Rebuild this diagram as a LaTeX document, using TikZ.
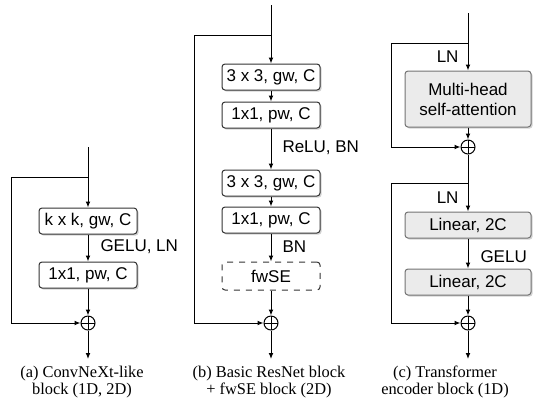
\documentclass[tikz,border=0pt]{standalone}
\usepackage{fontspec}
\setmainfont{Liberation Serif}
\newfontfamily\boxfont{Liberation Sans}
\usetikzlibrary{arrows.meta,shadows,positioning}

\tikzstyle{blk}=[draw=black!80, rounded corners=1.5pt, fill=white, minimum width=49pt, minimum height=13pt, inner sep=0pt, font=\boxfont\fontsize{8.5}{10}\selectfont, drop shadow={shadow xshift=0.8pt,shadow yshift=-0.8pt,fill=black!35}]
\tikzstyle{optblk}=[draw=black!80, dashed, rounded corners=1.5pt, fill=white, minimum width=49pt, minimum height=14pt, inner sep=0pt, font=\boxfont\fontsize{8.5}{10}\selectfont]
\tikzstyle{tblk}=[blk, draw=black!55, fill=black!8, minimum width=63pt, align=center]
\tikzstyle{lbl}=[font=\boxfont\fontsize{8.5}{10}\selectfont, inner sep=0pt]
\tikzstyle{add}=[circle, draw, fill=white, inner sep=0pt, minimum size=7pt, path picture={\draw (path picture bounding box.north) -- (path picture bounding box.south) (path picture bounding box.west) -- (path picture bounding box.east);}]
\tikzstyle{captxt}=[align=center, font=\fontsize{8.2}{8.5}\selectfont]

\begin{document}
\begin{tikzpicture}[x=0.5pt,y=-0.5pt,line width=0.5pt,>={Latex[length=3pt,width=2.4pt]}]
\useasboundingbox (0,0) rectangle (533,414);

% (a) ConvNeXt-like
\coordinate (atop) at (88,147);
\coordinate (aj) at (88,177);
\coordinate (aL) at (11,177);
\node [blk] (a1) at (88,221) {k x k, gw, C};
\node [blk] (a2) at (88,275) {1x1, pw, C};
\node [add] (ap) at (88,323) {};
\coordinate (aout) at (88,359);
\node [lbl, anchor=west] at (100,247) {GELU, LN};

\path [->] (atop) edge (a1) (a1) edge (a2) (a2) edge (ap) (ap) edge (aout);
\draw [->] (aj) -- (aL) |- (ap);

% (b) basic ResNet + fwSE
\coordinate (btop) at (271,5);
\coordinate (bj) at (271,35);
\coordinate (bL) at (194,35);
\node [blk] (b1) at (271,77) {3 x 3, gw, C};
\node [blk] (b2) at (271,115) {1x1, pw, C};
\node [blk] (b3) at (271,183) {3 x 3, gw, C};
\node [blk] (b4) at (271,220) {1x1, pw, C};
\node [optblk] (b5) at (271,276) {fwSE};
\node [add] (bp) at (271,323) {};
\coordinate (bout) at (271,359);
\node [lbl, anchor=west] at (282,148) {ReLU, BN};
\node [lbl, anchor=west] at (282,247) {BN};

\path [->] (btop) edge (b1) (b1) edge (b2) (b2) edge (b3) (b3) edge (b4)
			(b4) edge (b5) (b5) edge (bp) (bp) edge (bout);
\draw [->] (bj) -- (bL) |- (bp);

% (c) Transformer encoder
\coordinate (ctop) at (468,13);
\coordinate (cj1) at (468,43);
\coordinate (cL1) at (391,43);
\node [tblk, minimum height=28pt] (c1) at (468,99) {Multi-head\\self-attention};
\node [add] (cp1) at (468,147) {};
\coordinate (cj2) at (468,183);
\coordinate (cL2) at (391,183);
\node [tblk] (c2) at (468,225) {Linear, 2C};
\node [tblk] (c3) at (468,282) {Linear, 2C};
\node [add] (cp2) at (468,323) {};
\coordinate (cout) at (468,359);
\node [lbl, anchor=east] at (459,57) {LN};
\node [lbl, anchor=east] at (459,198) {LN};
\node [lbl, anchor=west] at (480,257) {GELU};

\path [->] (ctop) edge (c1) (c1) edge (cp1) (cp1) edge (c2) (c2) edge (c3)
			(c3) edge (cp2) (cp2) edge (cout);
\draw [->] (cj1) -- (cL1) |- (cp1);
\draw [->] (cj2) -- (cL2) |- (cp2);

% captions
\node [captxt] (capa) at (82,382) {(a) ConvNeXt-like\\block (1D, 2D)};
\node [captxt] (capb) at (269,382) {(b) Basic ResNet block\\+ fwSE block (2D)};
\node [captxt] (capc) at (445,382) {(c) Transformer\\encoder block (1D)};
\end{tikzpicture}
\end{document}
